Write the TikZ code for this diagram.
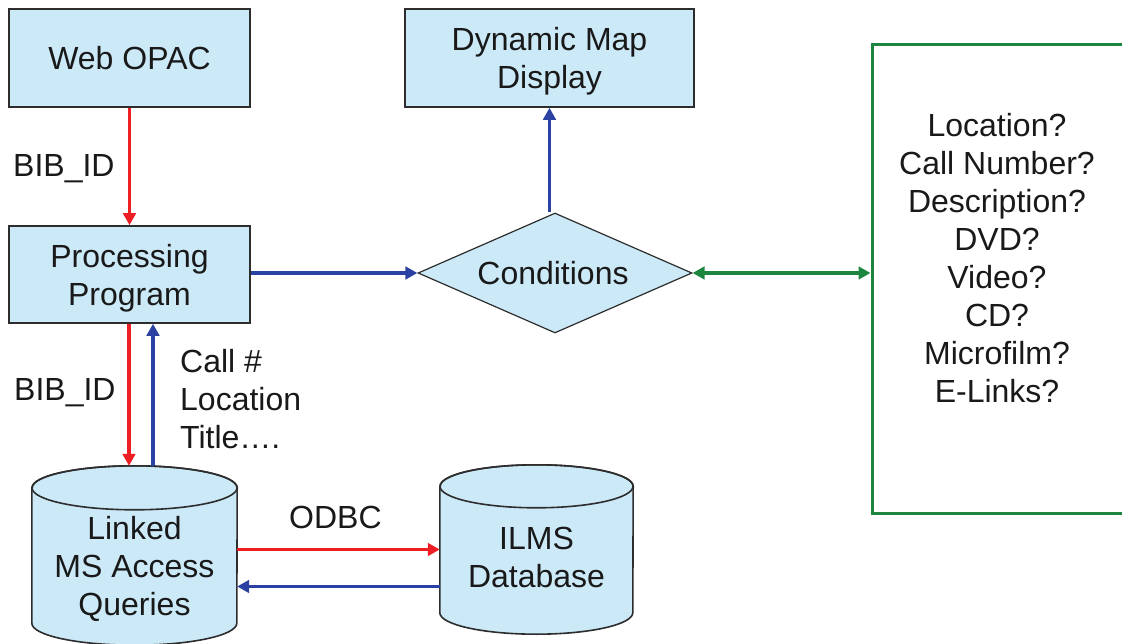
\documentclass[tikz,border=0pt]{standalone}
\usepackage{fontspec}
\setmainfont{Liberation Sans}
\usetikzlibrary{shapes.geometric,arrows.meta,calc}
\definecolor{boxfill}{RGB}{204,233,248}
\definecolor{boxline}{RGB}{45,45,45}
\definecolor{txt}{RGB}{25,25,25}
\definecolor{arrred}{RGB}{237,30,36}
\definecolor{arrblue}{RGB}{44,66,162}
\definecolor{arrgreen}{RGB}{28,134,62}
\newcommand\dbcyl[3]{% node, x radius, y radius
  \path[fill=boxfill,draw=boxline,line width=1.6pt]
    ([yshift=-#3]#1.north west) -- ([yshift=#3]#1.south west)
    arc[start angle=180,end angle=360,x radius=#2,y radius=#3]
    -- ([yshift=-#3]#1.north east)
    arc[start angle=0,end angle=180,x radius=#2,y radius=#3] -- cycle;
  \draw[boxline,line width=1.6pt] ([yshift=-#3]#1.north) ellipse[x radius=#2,y radius=#3];
}
\begin{document}
\begin{tikzpicture}[x=1pt,y=-1pt,
  every node/.style={font=\fontsize{32}{38}\selectfont,text=txt,inner sep=0pt},
  procbox/.style={rectangle,draw=boxline,fill=boxfill,line width=1.6pt,align=center,text depth=0pt},
  decbox/.style={diamond,draw=boxline,fill=boxfill,line width=1.2pt,aspect=2.28,minimum width=274pt,minimum height=120pt},
  dbshape/.style={rectangle,inner sep=0pt},
  listbox/.style={rectangle,draw=arrgreen,line width=3pt},
  lbl/.style={align=center,text depth=0pt},
  redarr/.style={draw=arrred,line width=3.5pt,-{Triangle[length=12pt,width=12.5pt]}},
  bluearr/.style={draw=arrblue,line width=3.5pt,-{Triangle[length=12pt,width=12.5pt]}},
  greenarr/.style={draw=arrgreen,line width=3.5pt,{Triangle[length=12pt,width=12.5pt]}-{Triangle[length=12pt,width=12.5pt]}}
]
\useasboundingbox (0,0) rectangle (1122,644);
\fill[white] (0,0) rectangle (1122,644);

% boxes
\node[procbox,minimum width=241pt,minimum height=98pt] (web) at (129.5,58) {Web OPAC};
\node[procbox,minimum width=241pt,minimum height=97pt] (proc) at (129.5,274.5) {Processing\\Program};
\node[procbox,minimum width=289pt,minimum height=98pt] (dmd) at (549.5,58) {Dynamic Map\\Display};
\node[decbox] (cond) at (555,273) {};
\node (condt) at (553,273.5) {Conditions};
\node[listbox,minimum width=254pt,minimum height=468pt] (qbox) at (999,279) {};
\node[lbl] (qtext) at (997,258) {Location?\\Call Number?\\Description?\\DVD?\\Video?\\CD?\\Microfilm?\\E-Links?};

% databases
\node[dbshape,minimum width=205pt,minimum height=179pt] (lmq) at (134.5,555.5) {};
\dbcyl{lmq}{102.5pt}{22pt}
\node[lbl] (lmqt) at (134.5,566) {Linked\\MS Access\\Queries};
\node[dbshape,minimum width=193pt,minimum height=169pt] (ilms) at (536.5,549.5) {};
\dbcyl{ilms}{96.5pt}{21.5pt}
\node[lbl] (ilmst) at (536.5,557.5) {ILMS\\Database};

% labels
\node[anchor=base west] (bib1) at (13,177) {BIB\_ID};
\node[anchor=base west] (bib2) at (14,400) {BIB\_ID};
\node[anchor=west,align=left,text depth=0pt] (callt) at (180,399) {Call \#\\Location\\Title\dots.};
\node[anchor=base west] (odbc) at (289,528) {ODBC};

% connectors
\draw[redarr] (web.south) -- (proc.north);
\draw[redarr] ([xshift=-0.5pt]proc.south) -- ([xshift=-0.5pt]proc.south |- lmq.north);
\draw[bluearr] ([xshift=18.5pt]lmq.north) -- ([xshift=18.5pt]lmq.north |- proc.south);
\draw[bluearr] (proc.east |- cond.west) -- (cond.west);
\draw[bluearr] (cond.north -| dmd.south) -- (dmd.south);
\draw[greenarr] (cond.east) -- (cond.east -| qbox.west);
\draw[redarr] (ilms.west -| lmq.east) -- (ilms.west);
\draw[bluearr] ([yshift=-37pt]ilms.west) -- ([yshift=-37pt]ilms.west -| lmq.east);
\end{tikzpicture}
\end{document}
